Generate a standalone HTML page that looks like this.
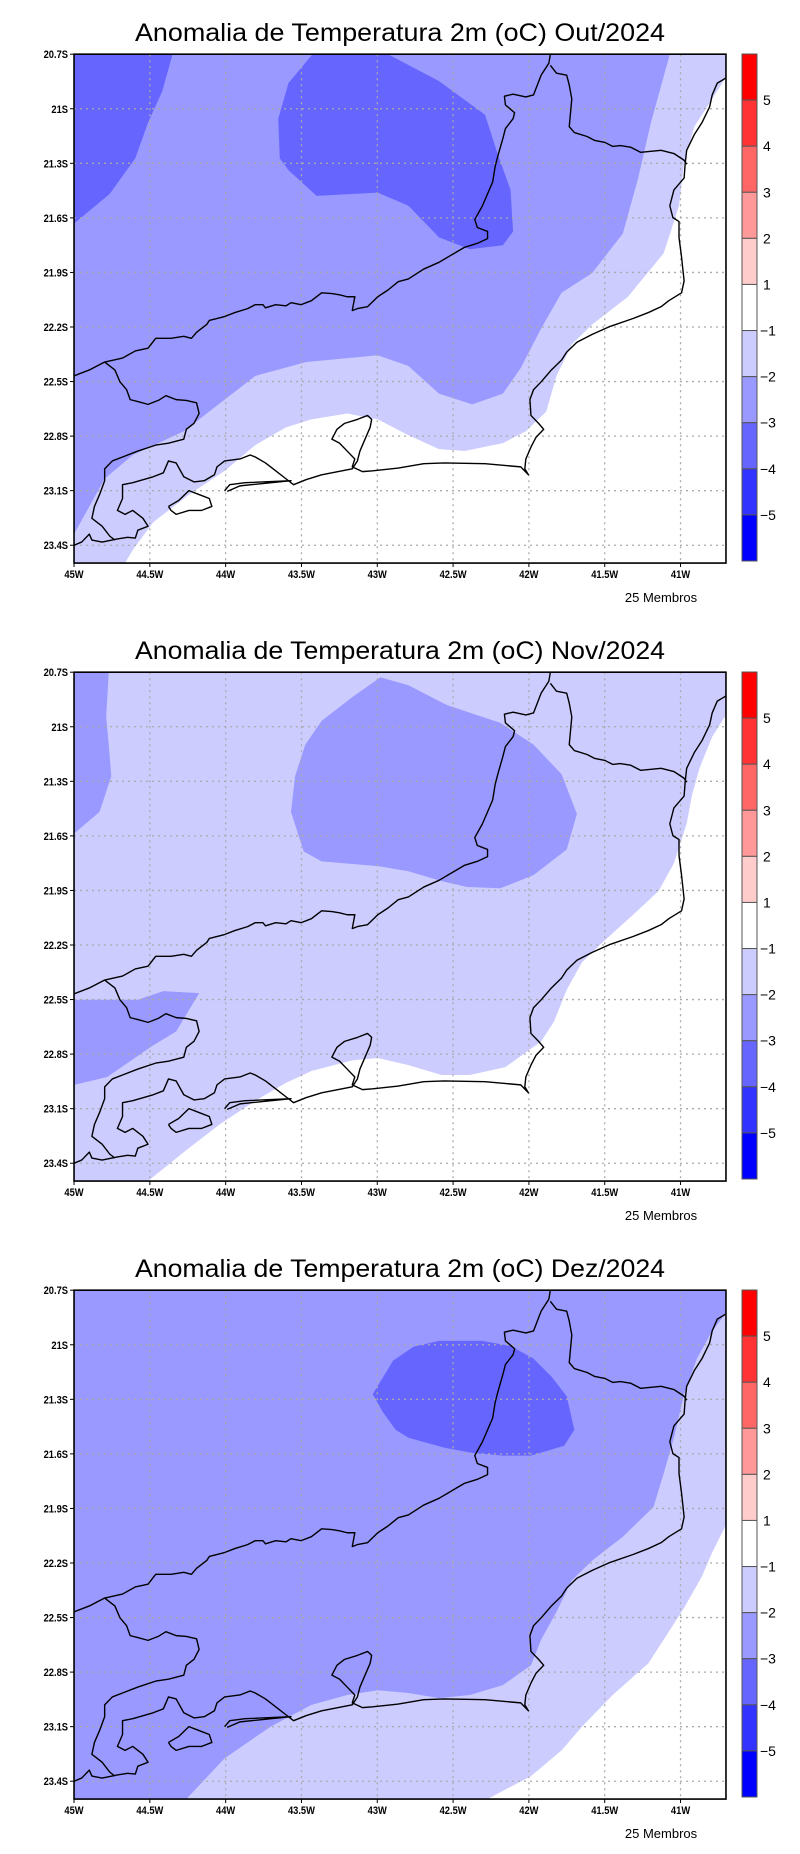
<!DOCTYPE html>
<html><head><meta charset="utf-8">
<style>
html,body{margin:0;padding:0;background:#fff;}
svg{display:block;}
text{font-family:"Liberation Sans",sans-serif;}
</style></head>
<body>
<svg id="page" width="800" height="1854" viewBox="0 0 800 1854" xmlns="http://www.w3.org/2000/svg"></svg>
<script>
// ---- data ----
const months = ["Out/2024","Nov/2024","Dez/2024"];
const panelTops = [0,618,1236];
const lonTicks = [-45,-44.5,-44,-43.5,-43,-42.5,-42,-41.5,-41];
const lonLabels = ["45W","44.5W","44W","43.5W","43W","42.5W","42W","41.5W","41W"];
const latTicks = [20.7,21,21.3,21.6,21.9,22.2,22.5,22.8,23.1,23.4];
const latLabels = ["20.7S","21S","21.3S","21.6S","21.9S","22.2S","22.5S","22.8S","23.1S","23.4S"];
const cbColors = ["#ff0000","#ff3333","#ff6666","#ff9999","#ffcccc","#ffffff","#ccccff","#9999ff","#6666ff","#3333ff","#0000ff"];
const cbLabels = ["5","4","3","2","1","\u22121","\u22122","\u22123","\u22124","\u22125"];

// contour polygons in map-frame units (1567x1567 frame over 800x620 panel)
const C2="#9999ff",C3="#6666ff",C1="#ccccff",W="#ffffff";
const panels = [
 {base:C2, shapes:[
  [C3,"145,137 338,137 318,230 290,310 265,400 215,490 145,565"],
  [C3,"612,137 760,137 860,205 950,290 975,390 1000,480 1005,585 985,620 920,630 860,600 800,520 740,487 620,495 565,430 548,400 545,300 565,210"],
  [C1,"145,1350 205,1210 260,1150 360,1090 440,1010 500,950 600,915 740,898 800,925 860,995 925,1022 985,995 1020,930 1060,830 1100,740 1160,690 1220,590 1250,450 1275,310 1312,137 1422,137 1422,1423 145,1423"],
  [W,"1422,195 1390,260 1360,320 1340,410 1330,520 1300,640 1230,750 1160,820 1120,870 1090,950 1070,1040 1030,1090 985,1120 910,1140 860,1135 800,1100 740,1060 680,1045 610,1060 560,1080 500,1125 440,1190 370,1250 300,1320 260,1390 245,1423 1422,1423"]]},
 {base:C1, shapes:[
  [C2,"145,137 213,137 208,250 213,320 218,400 195,490 145,545"],
  [C2,"745,150 800,170 875,220 980,265 1045,320 1100,395 1130,495 1110,585 1045,650 980,683 915,680 865,665 800,640 740,627 630,615 595,590 570,490 578,400 598,320 630,260 690,200"],
  [C2,"145,965 270,965 320,943 390,948 345,1045 300,1080 255,1120 210,1160 145,1180"],
  [W,"1422,245 1395,300 1370,380 1355,450 1345,520 1320,620 1290,690 1240,750 1180,820 1140,870 1110,940 1085,1020 1060,1070 990,1135 920,1155 865,1155 800,1130 740,1112 690,1118 610,1145 560,1175 500,1220 430,1280 360,1350 290,1423 1422,1423"]]},
 {base:C2, shapes:[
  [C3,"860,265 945,265 1000,278 1045,310 1080,355 1110,405 1125,490 1105,530 1040,555 985,555 925,548 870,535 800,510 775,490 750,445 730,400 770,315 810,280"],
  [C1,"1422,195 1395,240 1365,310 1340,400 1320,510 1300,600 1280,685 1220,760 1160,820 1120,870 1090,950 1060,1020 1040,1085 985,1135 920,1160 860,1168 800,1155 740,1148 680,1160 610,1185 530,1240 440,1320 365,1423 1422,1423"],
  [W,"1422,730 1395,800 1375,860 1340,940 1300,1020 1270,1080 1200,1160 1140,1240 1100,1300 1040,1365 955,1423 1422,1423"]]}
];
const lines = {
 "mg-border":"145,950 175,935 205,915 240,905 265,887 290,880 305,855 335,855 360,850 375,855 385,840 405,820 410,810 440,800 460,790 485,780 500,770 515,770 520,778 540,770 560,773 570,765 590,770 610,760 630,740 650,742 665,745 680,750 695,750 690,785 700,780 720,775 740,750 760,733 780,712 800,705 830,680 860,663 890,640 910,625 935,615 955,603 955,585 935,575 930,555 945,520 955,490 965,460 970,420 975,395 985,350 990,325 1005,300 1008,285 990,265 988,243 1005,238 1030,245 1045,240 1060,190 1075,160 1078,137",
 "es-border":"1078,165 1090,185 1110,190 1115,215 1120,250 1115,320 1125,335 1150,345 1165,355 1185,360 1200,370 1215,368 1235,372 1255,385 1270,383 1295,380 1320,388 1340,405 1345,415",
 "sp-border":"205,915 225,935 235,965 248,985 255,1010 270,1015 290,1022 310,1012 325,1000 345,1010 365,1012 385,1018 390,1045 380,1070 365,1085 360,1110 330,1120 305,1125 270,1140 240,1155 220,1165 205,1185 205,1215 195,1250 185,1280 180,1310 200,1330 215,1355 225,1365",
 "coastline":"1422,197 1405,210 1395,240 1390,270 1375,310 1360,340 1345,380 1342,415 1340,450 1320,480 1312,520 1318,550 1330,560 1330,600 1335,650 1340,710 1335,740 1310,760 1295,775 1270,790 1240,805 1195,825 1160,845 1130,865 1110,890 1100,910 1080,935 1060,965 1045,985 1038,1010 1040,1050 1055,1070 1065,1085 1050,1105 1040,1130 1030,1160 1028,1185 1035,1200 1020,1180 950,1172 870,1170 830,1172 780,1183 730,1190 710,1192 690,1180 695,1160 680,1140 665,1120 650,1110 660,1085 675,1070 700,1060 720,1050 728,1060 725,1080 715,1110 705,1140 700,1165 690,1185 630,1200 600,1212 575,1225 560,1210 540,1190 520,1170 500,1155 490,1150 470,1160 440,1165 425,1180 420,1200 400,1215 380,1218 360,1205 345,1170 330,1165 320,1195 300,1205 260,1220 240,1225 240,1260 230,1290 245,1300 260,1290 280,1310 290,1330 270,1340 265,1360 250,1358 230,1362 200,1370 180,1365 175,1350 160,1370 145,1378",
 "restinga":"440,1240 450,1225 480,1220 570,1215 470,1228 445,1242",
 "ilha-grande":"330,1280 350,1265 370,1240 390,1250 410,1260 415,1280 395,1290 370,1290 345,1300 335,1290 330,1280"
};

// ---- geometry ----
const NS="http://www.w3.org/2000/svg";
const page=document.getElementById('page');
const FX=800/1567, FY=620/1567;
const MX0=145,MX1=1422,MY0=137,MY1=1423;
function lonX(lon){return MX0+(lon+45)*(1333-145)/4;}
function latY(lat){return MY0+(lat-20.7)*(1378-137)/2.7;}
function mk(tag,attrs,parent){const e=document.createElementNS(NS,tag);for(const k in attrs)e.setAttribute(k,attrs[k]);parent.appendChild(e);return e;}

panels.forEach((p,i)=>{
 const top=panelTops[i];
 const g=mk('g',{transform:`translate(0,${top})`},page);
 
 
 const t=mk('text',{x:400,y:41,'text-anchor':'middle','font-size':'25',textLength:'530',lengthAdjust:'spacingAndGlyphs',fill:'#000'},g);
 t.textContent='Anomalia de Temperatura 2m (oC) '+months[i];
 
 
 const s=mk('svg',{x:0,y:0,width:800,height:620,viewBox:'0 0 1567 1567',preserveAspectRatio:'none'},g);
 
 
 const clip=mk('clipPath',{id:'clip'+i},s);
 mk('rect',{x:MX0,y:MY0,width:MX1-MX0,height:MY1-MY0},clip);
 const m=mk('g',{'clip-path':`url(#clip${i})`},s);
 const bg=mk('rect',{x:MX0,y:MY0,width:MX1-MX0,height:MY1-MY0,fill:p.base},m);
 
 
 p.shapes.forEach(sh=>{
  const pg=mk('polygon',{points:sh[1],fill:sh[0]},m);
  
  
 });
 lonTicks.slice(1).forEach(l=>{
  const x=lonX(l);
  const gl=mk('line',{x1:x,x2:x,y1:MY0,y2:MY1,stroke:'#aaa','stroke-width':1.3,'stroke-dasharray':'2 4','vector-effect':'non-scaling-stroke'},m);
  
  
 });
 latTicks.slice(1).forEach(l=>{
  const y=latY(l);
  const gl=mk('line',{x1:MX0,x2:MX1,y1:y,y2:y,stroke:'#aaa','stroke-width':1.3,'stroke-dasharray':'2 4','vector-effect':'non-scaling-stroke'},m);
  
  
 });
 for(const k in lines){
  const pl=mk('polyline',{points:lines[k],fill:'none',stroke:'#000','stroke-width':1.4,'stroke-linejoin':'round','vector-effect':'non-scaling-stroke'},m);
  
  
 }
 const fr=mk('rect',{x:MX0,y:MY0,width:MX1-MX0,height:MY1-MY0,fill:'none',stroke:'#000','stroke-width':1.6,'vector-effect':'non-scaling-stroke'},s);
 
 
 // axes labels (pixel coords)
 latTicks.forEach((l,j)=>{
  const y=latY(l)*FY;
  mk('line',{x1:70,x2:74,y1:y,y2:y,stroke:'#000','stroke-width':1},g);
  const tx=mk('text',{x:68,y:y+4,'text-anchor':'end','font-size':'11','font-weight':'bold',fill:'#000',transform:`translate(68,0) scale(0.85,1) translate(-68,0)`},g);
  tx.textContent=latLabels[j];
  
  
 });
 lonTicks.forEach((l,j)=>{
  const x=lonX(l)*FX;
  mk('line',{x1:x,x2:x,y1:563,y2:567,stroke:'#000','stroke-width':1},g);
  const tx=mk('text',{x:x,y:578,'text-anchor':'middle','font-size':'11','font-weight':'bold',fill:'#000',transform:`translate(${x},0) scale(0.85,1) translate(${-x},0)`},g);
  tx.textContent=lonLabels[j];
  
  
 });
 const mb=mk('text',{x:661,y:602,'text-anchor':'middle','font-size':'13',fill:'#000'},g);
 mb.textContent='25 Membros';
 
 
 // colorbar
 const cb=mk('g',{},g);
 
 
 const segH=(561-54)/cbColors.length;
 cbColors.forEach((c,j)=>{
  const r=mk('rect',{x:742,y:54+j*segH,width:15,height:segH,fill:c,stroke:'#555','stroke-width':1},cb);
  
  
 });
 cbLabels.forEach((lb,j)=>{
  const y=54+(j+1)*segH;
  const tx=mk('text',{x:lb.length>1?760:763,y:y+5,'font-size':'14',fill:'#000'},cb);
  tx.textContent=lb;
  
  
 });
});
</script>
</body></html>
